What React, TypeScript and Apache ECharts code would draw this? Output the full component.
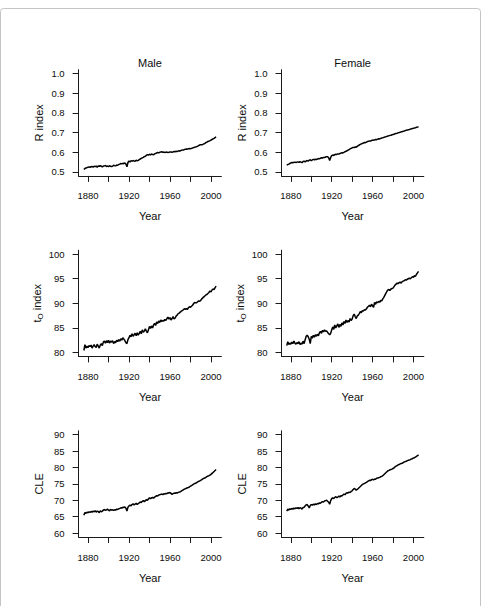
import React, { useEffect, useRef } from "react";
import * as echarts from "echarts";

const FIRST_YEAR = 1876;
const LAST_YEAR = 2005;

const maleR = [
  0.512, 0.518, 0.52, 0.522, 0.524, 0.526, 0.523, 0.527, 0.528, 0.525,
  0.529, 0.527, 0.53, 0.524, 0.531, 0.528, 0.532, 0.529, 0.526, 0.53,
  0.531, 0.533, 0.528, 0.53, 0.527, 0.532, 0.529, 0.527, 0.53, 0.534,
  0.532, 0.531, 0.535, 0.534, 0.538, 0.54, 0.543, 0.541, 0.544, 0.542,
  0.546, 0.54, 0.526, 0.548, 0.556, 0.551, 0.557, 0.555, 0.558, 0.556,
  0.555, 0.56, 0.557, 0.559, 0.563, 0.566, 0.569, 0.572, 0.574, 0.578,
  0.58, 0.584, 0.588, 0.586, 0.59, 0.587, 0.591, 0.589, 0.588, 0.592,
  0.594, 0.597, 0.599, 0.597, 0.6, 0.601, 0.603, 0.6, 0.601, 0.599,
  0.6, 0.601, 0.599, 0.6, 0.602, 0.601, 0.6, 0.602, 0.604, 0.603,
  0.605, 0.604, 0.606, 0.608, 0.607, 0.61, 0.612, 0.611, 0.614, 0.615,
  0.617, 0.616, 0.618, 0.619, 0.618, 0.62, 0.622, 0.624, 0.626, 0.627,
  0.629, 0.631, 0.634, 0.637, 0.639, 0.638, 0.64, 0.643, 0.645, 0.649,
  0.652, 0.655, 0.657, 0.659, 0.662, 0.665, 0.668, 0.671, 0.675, 0.679,
];

const femaleR = [
  0.534, 0.538, 0.54, 0.543, 0.546, 0.548, 0.547, 0.549, 0.55, 0.548,
  0.55, 0.551, 0.549, 0.552, 0.55, 0.547, 0.553, 0.555, 0.551, 0.556,
  0.558, 0.555, 0.56, 0.562, 0.557, 0.561, 0.564, 0.562, 0.565, 0.563,
  0.566, 0.568, 0.567, 0.57, 0.572, 0.571, 0.574, 0.573, 0.576, 0.578,
  0.577, 0.572, 0.558, 0.574, 0.583, 0.586, 0.584, 0.588, 0.59, 0.589,
  0.592, 0.591, 0.594, 0.596, 0.598, 0.597, 0.6, 0.603, 0.605, 0.608,
  0.611, 0.614, 0.617, 0.62, 0.623, 0.625, 0.624, 0.627, 0.626, 0.63,
  0.634, 0.637, 0.64, 0.643, 0.645, 0.647, 0.65, 0.649, 0.652, 0.655,
  0.656, 0.658, 0.657, 0.66, 0.662, 0.661, 0.663, 0.665, 0.664, 0.667,
  0.669, 0.668, 0.671, 0.673, 0.674, 0.676, 0.678, 0.679, 0.681, 0.683,
  0.684, 0.686, 0.687, 0.689, 0.69, 0.692, 0.694, 0.696, 0.697, 0.699,
  0.7, 0.702, 0.704, 0.705, 0.707, 0.708, 0.71, 0.712, 0.713, 0.715,
  0.716, 0.718, 0.719, 0.721, 0.722, 0.724, 0.725, 0.727, 0.728, 0.73,
];

const maleT = [
  80.4, 81.6, 80.9, 81.3, 81.0, 81.4, 81.2, 81.5, 80.9, 81.3,
  81.6, 81.2, 81.0, 81.7, 81.3, 80.9, 81.5, 81.8, 81.4, 82.1,
  82.3, 81.9, 82.4, 82.0, 82.5, 81.9, 82.3, 82.1, 82.4, 81.8,
  82.2, 82.0, 82.5, 82.2, 82.6, 82.3, 82.8, 82.5, 83.0, 82.7,
  82.4, 82.0, 81.8, 82.6, 83.0, 83.5, 83.2, 83.8, 83.3, 83.6,
  83.9, 83.4, 84.0, 83.5, 83.9, 84.3, 83.8, 84.6, 84.1, 84.4,
  84.8, 84.3, 84.0, 84.6, 85.3, 84.9, 85.4, 85.0, 85.6, 85.9,
  85.5, 86.2, 85.9, 86.4, 86.1, 86.6, 86.3, 86.5, 86.4, 86.7,
  86.5, 86.9, 87.2, 86.8, 87.1, 86.6, 86.9, 87.3, 86.8, 87.0,
  87.4, 87.6, 87.9, 88.0, 88.2, 88.4, 88.5, 88.7, 88.9, 88.8,
  88.9, 88.8, 89.1, 89.3, 89.2, 89.4, 89.6, 89.9, 90.2, 90.1,
  90.1, 90.3, 90.5, 90.4, 90.6, 90.9, 91.1, 91.3, 91.5, 91.7,
  91.8, 92.0, 92.2, 92.5, 92.3, 92.7, 92.9, 92.8, 93.2, 93.5,
];

const femaleT = [
  81.4, 82.2, 81.6, 81.9, 81.7, 82.1, 81.8, 82.3, 81.9, 81.7,
  82.0, 81.8, 82.2, 81.6, 81.9, 81.7, 82.3, 81.8, 82.6, 83.3,
  83.5, 83.2, 82.7, 81.8, 83.3, 82.9, 83.5, 83.1, 83.6, 83.3,
  83.7, 83.4, 84.0, 84.3, 83.9, 84.5, 84.2, 84.6, 84.3, 84.4,
  84.1, 83.8, 83.6, 83.9, 84.6, 85.2, 84.7, 85.6, 85.0, 85.4,
  85.8, 85.1, 85.7, 85.3, 86.0, 85.6, 86.3, 85.9, 86.6, 86.1,
  86.5, 86.2, 86.9, 86.5, 86.8, 87.5, 87.8, 87.3, 86.9, 87.4,
  87.6, 87.9, 88.3, 88.1, 88.5, 88.4, 88.7, 88.6, 88.9, 89.2,
  89.4, 89.6, 89.3, 89.8, 89.5, 89.2, 90.2, 89.8, 90.3, 90.1,
  90.4, 90.2, 90.6, 90.5, 90.9, 91.2, 91.6, 92.0, 92.4, 92.7,
  92.8, 92.6, 92.9, 93.0, 93.1, 93.4, 93.7, 93.9, 94.1, 94.0,
  94.2, 94.3, 94.1, 94.4, 94.5, 94.6, 94.8, 94.7, 94.9, 95.0,
  95.1, 95.0, 95.2, 95.4, 95.3, 95.6, 95.5, 95.9, 96.2, 96.5,
];

const maleCLE = [
  65.4, 66.3, 66.0, 66.4, 66.2, 66.5, 66.3, 66.6, 66.4, 66.7,
  66.5, 66.8, 66.4, 66.7, 66.6, 66.2, 66.8, 66.5, 66.7, 67.0,
  67.2, 66.9, 67.1, 67.3, 67.0, 66.8, 67.2, 67.0, 67.1, 66.9,
  67.1, 67.0, 67.3, 67.2, 67.4, 67.5, 67.7, 67.6, 67.9, 67.8,
  68.0, 67.6, 66.7, 67.9, 68.3, 68.5, 68.3, 68.7, 68.9, 68.6,
  68.8, 69.1, 68.7, 69.0, 69.2, 69.5, 69.3, 69.7, 69.9, 69.6,
  69.9, 70.2, 70.0, 70.4, 70.8, 70.5, 70.7, 70.9, 70.6, 71.0,
  71.2, 71.4, 71.3, 71.6, 71.7, 71.8, 71.9, 71.7, 72.0, 71.9,
  72.1, 72.0, 72.3, 72.2, 72.4, 72.1, 71.8, 72.0, 72.2, 72.1,
  72.3, 72.2, 72.4, 72.5, 72.6, 72.8, 73.0, 73.2, 73.4, 73.5,
  73.7, 73.8, 73.9, 74.1, 74.3, 74.5, 74.7, 74.9, 75.1, 75.2,
  75.4, 75.6, 75.8, 75.9, 76.1, 76.3, 76.5, 76.7, 76.8, 77.0,
  77.2, 77.4, 77.5, 77.7, 77.9, 78.2, 78.5, 78.8, 79.1, 79.4,
];

const femaleCLE = [
  66.7, 67.3, 67.0, 67.4, 67.2, 67.5, 67.3, 67.6, 67.4, 67.7,
  67.5, 67.8, 67.4, 67.7, 67.6, 67.3, 67.8, 67.9, 68.3, 68.6,
  68.7, 68.2, 67.7, 68.4, 68.7, 68.5, 68.8, 68.6, 68.9, 68.7,
  69.0, 68.9, 69.2, 69.1, 69.4, 69.6, 69.5, 69.8, 69.9, 70.0,
  69.7, 69.4, 68.8, 69.9, 70.5, 70.8, 70.5, 70.9, 71.1, 70.8,
  71.0, 71.3, 71.0, 71.4, 71.3, 71.6, 71.9, 71.7, 72.1, 72.3,
  72.2, 72.5, 72.4, 72.7, 72.9, 73.3, 73.6, 73.4, 73.1, 73.3,
  73.6, 73.9, 74.2, 74.5, 74.8, 75.0, 75.1, 75.3, 75.5, 75.7,
  75.9, 76.1, 76.0, 76.3, 76.4, 76.2, 76.5, 76.4, 76.7, 76.8,
  76.9, 77.0, 77.2, 77.3, 77.5, 77.8, 78.1, 78.4, 78.7, 79.0,
  79.1, 79.3, 79.4, 79.5, 79.7, 79.9, 80.2, 80.4, 80.6, 80.8,
  80.9, 81.1, 81.2, 81.3, 81.5, 81.7, 81.8, 81.9, 82.1, 82.2,
  82.3, 82.4, 82.6, 82.7, 82.9, 83.0, 83.2, 83.4, 83.6, 83.9,
];

const xTicks = [1880, 1900, 1920, 1940, 1960, 1980, 2000];
const xLabels = [1880, 1920, 1960, 2000];
const rTicks = [0.5, 0.6, 0.7, 0.8, 0.9, 1.0];
const tTicks = [80, 85, 90, 95, 100];
const cleTicks = [60, 65, 70, 75, 80, 85, 90];

const columnTitles = ["Male", "Female"];
const rowNames = ["R index", "{a|t}{b|O}{a| index}", "CLE"];

const FONT = "'Liberation Sans', Arial, Helvetica, sans-serif";

export default function App() {
  const ref = useRef<HTMLDivElement>(null);

  useEffect(() => {
    if (!ref.current) return;
    const chart = echarts.init(ref.current, null, { renderer: "svg" });

    const years: number[] = [];
    for (let y = FIRST_YEAR; y <= LAST_YEAR; y++) years.push(y);
    const span = LAST_YEAR - FIRST_YEAR;
    const xMin = FIRST_YEAR - span * 0.04;
    const xMax = LAST_YEAR + span * 0.04;

    const panels = [
      { data: maleR, ticks: rTicks, lo: 0.5, hi: 1.0, dec: 1, row: 0, col: 0 },
      { data: femaleR, ticks: rTicks, lo: 0.5, hi: 1.0, dec: 1, row: 0, col: 1 },
      { data: maleT, ticks: tTicks, lo: 80, hi: 100, dec: 0, row: 1, col: 0 },
      { data: femaleT, ticks: tTicks, lo: 80, hi: 100, dec: 0, row: 1, col: 1 },
      { data: maleCLE, ticks: cleTicks, lo: 60, hi: 90, dec: 0, row: 2, col: 0 },
      { data: femaleCLE, ticks: cleTicks, lo: 60, hi: 90, dec: 0, row: 2, col: 1 },
    ];

    const tops = [69.7, 250.2, 430.8];
    const lefts = [78.6, 281.5];
    const widths = [142.8, 142.3];
    const gridH = 106.2;

    const axisColor = "#1a1a1a";
    const textColor = "#0d0d0d";

    const grid = panels.map((p) => ({
      left: lefts[p.col],
      top: tops[p.row],
      width: widths[p.col],
      height: gridH,
      outerBoundsMode: "none",
      containLabel: false,
    }));

    const xAxis = panels.map((p, i) => ({
      type: "value",
      gridIndex: i,
      min: xMin,
      max: xMax,
      splitLine: { show: false },
      axisLine: { show: true, onZero: false, lineStyle: { color: axisColor, width: 1 } },
      axisTick: {
        show: true,
        inside: false,
        length: 6,
        customValues: xTicks,
        lineStyle: { color: axisColor, width: 1 },
      },
      axisLabel: {
        customValues: xLabels,
        margin: 15,
        fontSize: 9.5,
        color: textColor,
        fontFamily: FONT,
        formatter: (v: number) => String(Math.round(v)),
      },
      name: "Year",
      nameLocation: "middle",
      nameGap: 35,
      nameTextStyle: { fontSize: 11, color: textColor, fontFamily: FONT },
    }));

    const yAxis = panels.map((p, i) => {
      const span2 = p.hi - p.lo;
      return {
        type: "value",
        gridIndex: i,
        min: p.lo - span2 * 0.04,
        max: p.hi + span2 * 0.04,
        splitLine: { show: false },
        axisLine: { show: true, onZero: false, lineStyle: { color: axisColor, width: 1 } },
        axisTick: {
          show: true,
          inside: false,
          length: 6,
          customValues: p.ticks,
          lineStyle: { color: axisColor, width: 1 },
        },
        axisLabel: {
          customValues: p.ticks,
          margin: 14,
          fontSize: 9.5,
          color: textColor,
          fontFamily: FONT,
          formatter: (v: number) => v.toFixed(p.dec),
        },
        name: rowNames[p.row],
        nameLocation: "middle",
        nameRotate: 90,
        nameGap: 34,
        nameTextStyle: {
          fontSize: 11,
          color: textColor,
          fontFamily: FONT,
          rich: {
            a: { fontSize: 11, lineHeight: 16, verticalAlign: "middle", color: textColor, fontFamily: FONT },
            b: { fontSize: 8, lineHeight: 10, verticalAlign: "bottom", color: textColor, fontFamily: FONT },
          },
        },
      };
    });

    const series = panels.map((p, i) => ({
      type: "line",
      xAxisIndex: i,
      yAxisIndex: i,
      showSymbol: false,
      symbol: "none",
      lineStyle: { color: "#000", width: 1.5 },
      data: p.data.map((v, k) => [years[k], v]),
      silent: true,
    }));

    const graphic: any[] = [
      {
        type: "rect",
        shape: { x: 0.5, y: 8.5, width: 480, height: 640, r: 3 },
        style: { fill: "none", stroke: "#c4c4c4", lineWidth: 1 },
        silent: true,
      },
    ];
    columnTitles.forEach((t, c) => {
      graphic.push({
        type: "text",
        x: lefts[c] + widths[c] / 2,
        y: 63,
        style: {
          text: t,
          fontSize: 11,
          fontFamily: FONT,
          fill: textColor,
          align: "center",
          verticalAlign: "middle",
        },
      });
    });

    chart.setOption({
      animation: false,
      backgroundColor: "#fff",
      grid,
      xAxis,
      yAxis,
      series,
      graphic,
    });

    return () => chart.dispose();
  }, []);

  return (
    <div
      ref={ref}
      style={{ position: "absolute", left: 0, top: 0, width: 483, height: 606 }}
    />
  );
}
